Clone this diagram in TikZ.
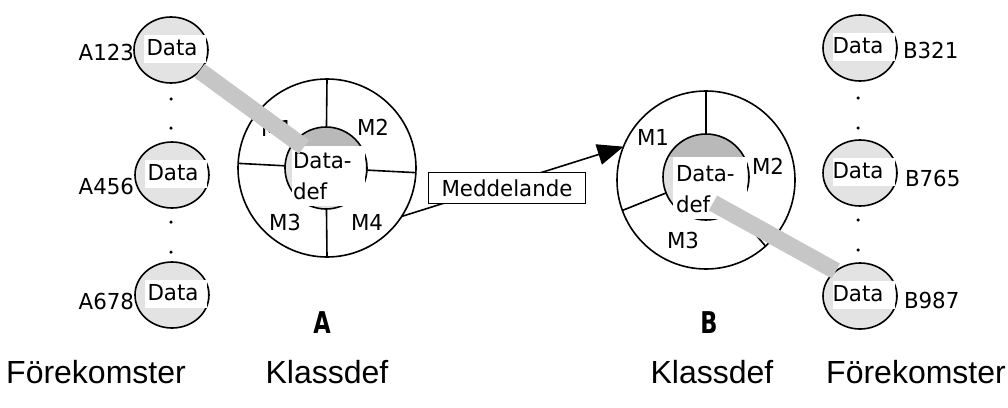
\documentclass[tikz,border=0pt]{standalone}
\usepackage{fontspec}
\setmainfont{DejaVu Sans}[FakeStretch=0.97]
\newfontfamily\captionfont{Liberation Sans}
\newfontfamily\letterfont{DejaVu Sans}[FakeStretch=0.75]
\usetikzlibrary{arrows.meta,shapes.geometric}

\begin{document}
\begin{tikzpicture}[x=1pt,y=-1pt,
  every node/.style={inner sep=0pt, outer sep=0pt},
  lbl/.style={font=\fontsize{22}{26}\selectfont},
  inst/.style={ellipse, draw=black, line width=1.6pt, fill=gray!22,
    minimum width=74pt, minimum height=66pt},
  hole/.style={fill=white, minimum width=62pt, minimum height=28pt},
  klass/.style={circle, draw=black, line width=1.6pt, fill=white, minimum size=178pt},
  ring/.style={circle, draw=black, line width=1.6pt},
  divider/.style={line width=1.6pt},
  band/.style={line width=17pt, draw=gray!45},
  msgbox/.style={draw, fill=white, line width=1.5pt, minimum width=157pt,
    minimum height=31pt, lbl},
  caption/.style={font=\captionfont\fontsize{32}{38}\selectfont},
  letter/.style={font=\letterfont\bfseries\fontsize{30}{34}\selectfont},
  dot/.style={circle, fill=black, minimum size=3.5pt},
  defbox/.style={fill=white},
  deftext/.style={align=left, font=\fontsize{22}{31}\selectfont, anchor=west},
]
\useasboundingbox (0,0) rectangle (1008,407);

% ---------- occurrences of class A ----------
\node[inst] (a1) at (171,50) {};
\node[hole] (a1h) at (175,49) {};
\node[lbl] (a1t) at (172,48) {Data};
\node[lbl, anchor=east] (a1n) at (134,52) {A123};

\node[inst] (a2) at (172,175) {};
\node[hole] (a2h) at (176,174) {};
\node[lbl] (a2t) at (173,173) {Data};
\node[lbl, anchor=east] (a2n) at (134,186) {A456};

\node[inst] (a3) at (172,295) {};
\node[hole] (a3h) at (176,294) {};
\node[lbl] (a3t) at (173,293) {Data};
\node[lbl, anchor=east] (a3n) at (134,301) {A678};

\node[dot] (ad1) at (171,99) {};
\node[dot] (ad2) at (171,128) {};
\node[dot] (ad3) at (171,222) {};
\node[dot] (ad4) at (171,252) {};

% ---------- occurrences of class B ----------
\node[inst] (b1) at (860,48) {};
\node[hole] (b1h) at (864,47) {};
\node[lbl] (b1t) at (858,46) {Data};
\node[lbl, anchor=west] (b1n) at (903,50) {B321};

\node[inst] (b2) at (860,173) {};
\node[hole] (b2h) at (864,172) {};
\node[lbl] (b2t) at (858,171) {Data};
\node[lbl, anchor=west] (b2n) at (905,178) {B765};

\node[inst] (b3) at (860,296) {};
\node[hole] (b3h) at (864,295) {};
\node[lbl] (b3t) at (858,294) {Data};
\node[lbl, anchor=west] (b3n) at (904,300) {B987};

\node[dot] (bd1) at (858,98) {};
\node[dot] (bd2) at (858,128) {};
\node[dot] (bd3) at (858,220) {};
\node[dot] (bd4) at (858,250) {};

% ---------- message from A to B ----------
\node[klass] (A) at (327,168) {};
\node[klass] (B) at (706,180) {};
\draw[line width=1.6pt, -{Triangle[length=26pt,width=21pt]}] (A.-33) -- (B.158);
\node[msgbox] (msg) at (507,188) {Meddelande};

% ---------- class definition A ----------
\coordinate (Ac) at (326,168);
\draw[divider] (A.north) -- (Ac);
\draw[divider] (A.177) -- (Ac);
\draw[divider] (A.-3) -- (Ac);
\draw[divider] (A.south) -- (Ac);
\fill[gray!25] (Ac) circle[radius=41pt];
\begin{scope}
  \clip (Ac) circle[radius=41pt];
  \fill[gray!55] (280,120) rectangle (375,146);
\end{scope}
\node[ring, minimum size=82pt] (Ain) at (Ac) {};
\fill[defbox] (292,146) rectangle (365,206);
\node[deftext] (Adef) at (293,176) {Data-\\def};
\node[lbl] (A1) at (277,128) {M1};
\node[lbl] (A2) at (373,127) {M2};
\node[lbl] (A3) at (285,222) {M3};
\node[lbl] (A4) at (367,222) {M4};

% ---------- class definition B ----------
\coordinate (Bc) at (706,177);
\draw[divider] (B.north) -- (Bc);
\draw[divider] (B.200) -- (Bc);
\draw[divider] (B.-48) -- (Bc);
\fill[gray!25] (Bc) circle[radius=43pt];
\begin{scope}
  \clip (Bc) circle[radius=43pt];
  \fill[gray!55] (655,125) rectangle (755,157);
\end{scope}
\node[ring, minimum size=86pt] (Bin) at (Bc) {};
\fill[defbox] (673,157) rectangle (747,219);
\node[deftext] (Bdef) at (676,189) {Data-\\def};
\node[lbl] (B1) at (653,137) {M1};
\node[lbl] (B2) at (768,166) {M2};
\node[lbl] (B3) at (683,240) {M3};

% ---------- links between occurrences and their class data ----------
\coordinate (Ahit) at (304,147);
\coordinate (Bhit) at (713,203);
\draw[band] (a1.-36) -- (Ahit);
\draw[band] (Bhit) -- (b3.134);

% ---------- captions ----------
\node[letter] (Aname) at (322,323) {A};
\node[letter] (Bname) at (709,323) {B};
\node[caption] (c1) at (96,372) {Förekomster};
\node[caption] (c2) at (327,372) {Klassdef};
\node[caption] (c3) at (712,372) {Klassdef};
\node[caption] (c4) at (916,372) {Förekomster};
\end{tikzpicture}
\end{document}
